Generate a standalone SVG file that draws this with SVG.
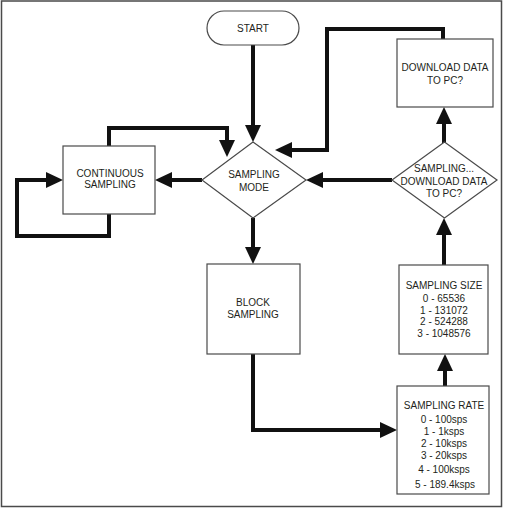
<svg xmlns="http://www.w3.org/2000/svg" width="505" height="508" viewBox="0 0 505 508">
<style>
.shape{fill:#fff;stroke:#4a4a4a;stroke-width:1.2}
.t{font-family:"Liberation Sans",Arial,sans-serif;font-size:10px;fill:#231f20;text-anchor:middle}
.c{fill:none;stroke:#111;stroke-width:4;stroke-linejoin:miter}
</style>
<defs>
<marker id="arr" markerUnits="userSpaceOnUse" markerWidth="17" markerHeight="16" refX="8" refY="8" orient="auto" viewBox="0 0 17 16">
<path d="M0,0 L17,8 L0,16 z" fill="#111"/>
</marker>
</defs>
<rect x="1.5" y="1" width="500" height="505.5" fill="#fff" stroke="#4a4a4a" stroke-width="1.5"/>
<g id="connectors">
<path class="c" d="M253,45 V133" marker-end="url(#arr)"/>
<path class="c" d="M202,180 H164" marker-end="url(#arr)"/>
<path class="c" d="M109,146 V128 H227 V148" marker-end="url(#arr)"/>
<path class="c" d="M109,214 V236 H17 V180 H54" marker-end="url(#arr)"/>
<path class="c" d="M253,218 V255" marker-end="url(#arr)"/>
<path class="c" d="M253,354 V430 H388" marker-end="url(#arr)"/>
<path class="c" d="M445,386 V363" marker-end="url(#arr)"/>
<path class="c" d="M444,265 V227" marker-end="url(#arr)"/>
<path class="c" d="M392,180 H315" marker-end="url(#arr)"/>
<path class="c" d="M444,143 V116" marker-end="url(#arr)"/>
<path class="c" d="M443,39 V29 H327 V150 H284" marker-end="url(#arr)"/>
</g>
<g id="start">
<rect class="shape" x="207" y="11" width="92" height="34" rx="17" ry="17"/>
<text class="t" x="253" y="32">START</text>
</g>
<g id="sampling-mode">
<polygon class="shape" points="253,142 306,180 253,218 202,180"/>
<text class="t" x="254" y="178">SAMPLING</text>
<text class="t" x="254" y="191">MODE</text>
</g>
<g id="continuous">
<rect class="shape" x="63" y="146" width="92" height="68"/>
<text class="t" x="110" y="177">CONTINUOUS</text>
<text class="t" x="110" y="188">SAMPLING</text>
</g>
<g id="download">
<rect class="shape" x="397" y="39" width="96" height="68"/>
<text class="t" x="445" y="71">DOWNLOAD DATA</text>
<text class="t" x="445" y="84">TO PC?</text>
</g>
<g id="sampling-download">
<polygon class="shape" points="444.5,142 497,180 444.5,218 392,180"/>
<text class="t" x="444" y="172">SAMPLING...</text>
<text class="t" x="444" y="185">DOWNLOAD DATA</text>
<text class="t" x="444" y="197">TO PC?</text>
</g>
<g id="block">
<rect class="shape" x="207" y="264" width="93" height="90"/>
<text class="t" x="253" y="306">BLOCK</text>
<text class="t" x="253" y="318">SAMPLING</text>
</g>
<g id="size">
<rect class="shape" x="399" y="265" width="89" height="89"/>
<text class="t" x="444" y="289">SAMPLING SIZE</text>
<text class="t" x="444" y="302">0 - 65536</text>
<text class="t" x="444" y="314">1 - 131072</text>
<text class="t" x="444" y="325">2 - 524288</text>
<text class="t" x="444" y="337">3 - 1048576</text>
</g>
<g id="rate">
<rect class="shape" x="397" y="386" width="92" height="108"/>
<text class="t" x="444" y="409">SAMPLING RATE</text>
<text class="t" x="444" y="423">0 - 100sps</text>
<text class="t" x="444" y="435">1 - 1ksps</text>
<text class="t" x="444" y="447">2 - 10ksps</text>
<text class="t" x="444" y="459">3 - 20ksps</text>
<text class="t" x="444" y="473">4 - 100ksps</text>
<text class="t" x="445" y="488">5 - 189.4ksps</text>
</g>
</svg>
